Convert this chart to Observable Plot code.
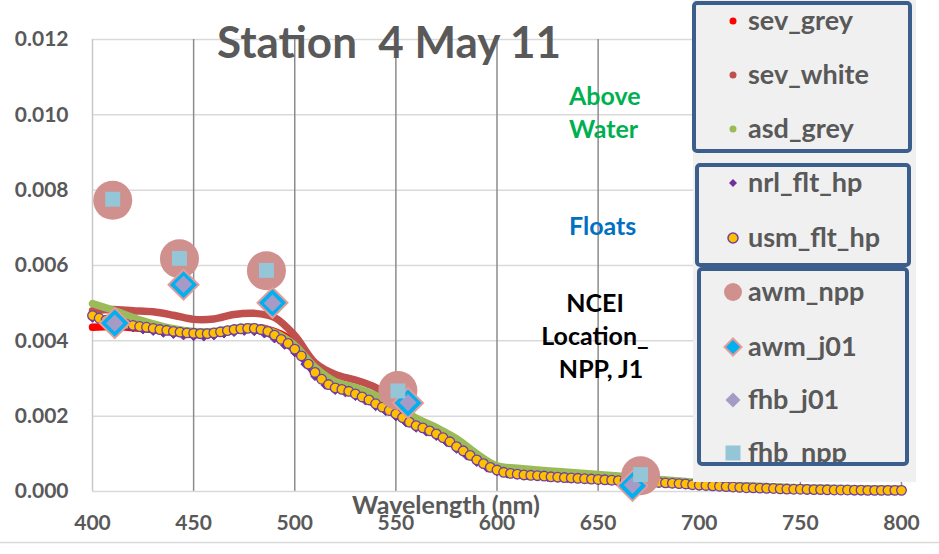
<!DOCTYPE html>
<html><head><meta charset="utf-8">
<script src="https://cdn.jsdelivr.net/npm/d3@7"></script>
<script src="https://cdn.jsdelivr.net/npm/@observablehq/plot@0.6"></script>
<style>html,body{margin:0;padding:0;background:#fff;overflow:hidden;} svg{display:block;}</style>
</head><body><div id="chart"></div>
<script>
// ---------- DATA ----------
const xTicks = [400, 450, 500, 550, 600, 650, 700, 750, 800];
const yTicks = [0, 0.002, 0.004, 0.006, 0.008, 0.010, 0.012];

// 10-nm sampled above-water spectra
const wl10 = [400,410,420,430,440,450,460,470,480,490,500,510,520,530,540,550,560,570,580,590,600,
              610,620,630,640,650,660,670,680,690,700,710,720,730,740,750,760,770,780,790,800];
const sevGrey = [0.00436,0.00438,0.00435,0.00430,0.00424,0.00420,0.00422,0.00430,0.00436,0.00425,0.00395,
                 0.00330,0.00285,0.00268,0.00245,0.00215,0.00185,0.00158,0.00125,0.00090,0.00062,
                 0.00052,0.00047,0.00043,0.00040,0.00037,0.00034,0.00031,0.00028,0.00024,0.00020,
                 0.00017,0.00014,0.00012,0.00010,0.00008,0.00007,0.00006,0.00005,0.00005,0.00005];
const sevWhite = [0.00480,0.00483,0.00480,0.00477,0.00468,0.00457,0.00458,0.00470,0.00473,0.00462,0.00414,
                  0.00342,0.00311,0.00296,0.00276,0.00236,0.00192,0.00165,0.00133,0.00095,0.00066,
                  0.00056,0.00052,0.00048,0.00044,0.00041,0.00037,0.00034,0.00030,0.00026,0.00021,
                  0.00018,0.00015,0.00012,0.00010,0.00008,0.00007,0.00006,0.00005,0.00005,0.00005];
const asdGrey = [0.00499,0.00482,0.00462,0.00445,0.00432,0.00425,0.00425,0.00433,0.00436,0.00422,0.00388,
                 0.00330,0.00292,0.00276,0.00255,0.00228,0.00195,0.00170,0.00140,0.00100,0.00068,
                 0.00062,0.00057,0.00053,0.00049,0.00045,0.00041,0.00037,0.00032,0.00028,0.00023,
                 0.00020,0.00017,0.00014,0.00012,0.00010,0.00009,0.00008,0.00007,0.000065,0.00006];

// NRL float (5 nm)
const wlNrl = [400,405,410,415,420,425,430,435,440,445,450,455,460,465,470,475,480,485,490,495,
               500,505,510,515,520,525,530,535,540,545,550,555,560,565,570,575,580,585,590,595,
               600,605,610,615,620,625,630,635,640,645,650,655,660,665,670,675,680,685,690,695,
               700,705,710,715,720,725,730,735,740,745,750,755,760,765,770,775,780,785,790,795,800];
const nrlFlt = [0.00460,0.00450,0.00444,0.00440,0.00434,0.00429,0.00425,0.00420,0.00417,0.00413,
                0.00411,0.00410,0.00413,0.00418,0.00422,0.00425,0.00424,0.00418,0.00405,0.00388,
                0.00368,0.00338,0.00305,0.00282,0.00268,0.00262,0.00252,0.00240,0.00225,0.00212,
                0.00198,0.00182,0.00168,0.00158,0.00146,0.00130,0.00112,0.00094,0.00077,0.00062,
                0.00052,0.00046,0.00043,0.00041,0.00039,0.00037,0.00036,0.00034,0.00033,0.00032,
                0.00030,0.00029,0.00027,0.00026,0.00025,0.00024,0.00022,0.00021,0.00019,0.00017,
                0.00015,0.00014,0.00012,0.00011,0.00010,0.00009,0.00008,0.00007,0.00006,0.000055,
                0.00005,0.000045,0.00004,0.00004,0.000035,0.00003,0.00003,0.000025,0.00002,0.00002,0.00002];

// USM float (~3.3 nm)
const wlUsm = [400,403.3,406.7,410,413.3,416.7,420,423.3,426.7,430,433.3,436.7,440,443.3,446.7,450,453.3,456.7,
  460,463.3,466.7,470,473.3,476.7,480,483.3,486.7,490,493.3,496.7,500,503.3,506.7,510,513.3,516.7,520,523.3,526.7,
  530,533.3,536.7,540,543.3,546.7,550,553.3,556.7,560,563.3,566.7,570,573.3,576.7,580,583.3,586.7,590,593.3,596.7,
  600,603.3,606.7,610,613.3,616.7,620,623.3,626.7,630,633.3,636.7,640,643.3,646.7,650,653.3,656.7,660,663.3,666.7,
  670,673.3,676.7,680,683.3,686.7,690,693.3,696.7,700,703.3,706.7,710,713.3,716.7,720,723.3,726.7,730,733.3,736.7,
  740,743.3,746.7,750,753.3,756.7,760,763.3,766.7,770,773.3,776.7,780,783.3,786.7,790,793.3,796.7,800];
const usmFlt = [0.00467,0.00460,0.00455,0.00451,0.00448,0.00444,0.00441,0.00438,0.00436,0.00433,
  0.00430,0.00428,0.00425,0.00423,0.00421,0.00420,0.00419,0.00419,0.00421,0.00424,
  0.00427,0.00430,0.00432,0.00433,0.00433,0.00430,0.00425,0.00415,0.00404,0.00393,
  0.00378,0.00360,0.00338,0.00316,0.00298,0.00284,0.00275,0.00271,0.00266,0.00259,
  0.00251,0.00243,0.00233,0.00224,0.00215,0.00206,0.00196,0.00184,0.00175,0.00169,
  0.00161,0.00153,0.00143,0.00132,0.00119,0.00108,0.00096,0.00084,0.00074,0.00064,
  0.00057,0.00051,0.00048,0.00046,0.00044,0.00043,0.00042,0.00041,0.00039,0.00038,
  0.00037,0.00036,0.00035,0.00034,0.00033,0.00032,0.00031,0.00030,0.00029,0.000285,
  0.00028,0.00027,0.00026,0.00025,0.00024,0.00023,0.00022,0.00021,0.00020,0.00018,
  0.00017,0.00016,0.00015,0.00014,0.00013,0.00012,0.00011,0.00010,0.000095,0.00009,
  0.000085,0.00008,0.00007,0.000065,0.00006,0.00006,0.000055,0.00005,0.00005,0.000045,
  0.00004,0.00004,0.00004,0.000035,0.000035,0.00003,0.00003,0.00003,0.00003,0.00003,0.00003];

// Satellite matchups
const wlNpp = [410, 443, 486, 551, 671];
const awmNpp = [0.00773, 0.00618, 0.00586, 0.00268, 0.00042];
const fhbNpp = [0.00776, 0.00619, 0.00587, 0.00267, 0.00045];
const wlJ01 = [411, 445, 489, 556, 667];
const awmJ01 = [0.00447, 0.00549, 0.00501, 0.00235, 0.00015];
const fhbJ01 = [0.00447, 0.00550, 0.00500, 0.00236, 0.00017];

const legendNames = ["sev_grey","sev_white","asd_grey","nrl_flt_hp","usm_flt_hp","awm_npp","awm_j01","fhb_j01","fhb_npp"];
const titleText = "Station  4 May 11";
const xLabel = "Wavelength (nm)";

// ---------- BUILD ----------
const pts = (xs, ys) => xs.map((x, i) => ({x, y: ys[i]}));
const FONT = "Lato, 'Open Sans', sans-serif";
const GREY = "#595959";
const C = {
  sevGrey: "#ff0000", sevWhite: "#c0504d", asd: "#9bbb59", nrl: "#7030a0",
  usm: "#ffc000", usmStroke: "#7040a0", awmNpp: "#d0908e", awmJ01: "#00b0f0",
  awmJ01Stroke: "#e39c9a", fhbJ01: "#a59bc6", fhbNpp: "#94c6d8"
};

const plot = Plot.plot({
  width: 939, height: 554,
  marginLeft: 92, marginRight: 38, marginTop: 39, marginBottom: 63,
  style: {fontFamily: FONT, fontWeight: "bold", fontSize: "21px", color: GREY, background: "white", overflow: "visible"},
  x: {domain: [400, 800], ticks: xTicks, tickSize: 0, tickPadding: 24, label: null},
  y: {domain: [0, 0.012], ticks: yTicks, tickSize: 0, tickPadding: 24, tickFormat: d3.format(".3f"), label: null},
  marks: [
    Plot.ruleY(yTicks.slice(1), {stroke: "#d9d9d9", strokeWidth: 1.5}),
    Plot.ruleX(xTicks.slice(1), {stroke: "#8c8c8c", strokeWidth: 1.5}),
    Plot.ruleX([400], {stroke: "#c8c8c8", strokeWidth: 1.5}),
    Plot.ruleY([0], {stroke: "#d9d9d9", strokeWidth: 1.5}),
    Plot.line(pts(wl10, sevGrey), {x: "x", y: "y", stroke: C.sevGrey, strokeWidth: 7.5, curve: "catmull-rom", strokeLinecap: "round"}),
    Plot.line(pts(wl10, sevWhite), {x: "x", y: "y", stroke: C.sevWhite, strokeWidth: 7.5, curve: "catmull-rom", strokeLinecap: "round"}),
    Plot.line(pts(wl10, asdGrey), {x: "x", y: "y", stroke: C.asd, strokeWidth: 7.5, curve: "catmull-rom", strokeLinecap: "round"}),
    Plot.line(pts(wlNrl, nrlFlt), {x: "x", y: "y", stroke: C.nrl, strokeWidth: 3, curve: "catmull-rom"}),
    Plot.dot(pts(wlNrl, nrlFlt), {x: "x", y: "y", symbol: "diamond2", r: 3.6, fill: C.nrl, stroke: C.nrl, strokeWidth: 1}),
    Plot.dot(pts(wlUsm, usmFlt), {x: "x", y: "y", symbol: "circle", r: 4.8, fill: C.usm, stroke: C.usmStroke, strokeWidth: 1.3}),
    Plot.dot(pts(wlNpp, awmNpp), {x: "x", y: "y", symbol: "circle", r: 19.5, fill: C.awmNpp}),
    Plot.dot(pts(wlJ01, awmJ01), {x: "x", y: "y", symbol: "diamond2", r: 13.5, fill: C.awmJ01, stroke: C.awmJ01Stroke, strokeWidth: 2}),
    Plot.dot(pts(wlJ01, fhbJ01), {x: "x", y: "y", symbol: "diamond2", r: 7.8, fill: C.fhbJ01, stroke: "none"}),
    Plot.dot(pts(wlNpp, fhbNpp), {x: "x", y: "y", symbol: "square", r: 8.4, fill: C.fhbNpp, stroke: "none"})
  ]
});

const svg = d3.select(plot);

// chart frame bottom line
svg.append("line").attr("x1", 0).attr("x2", 939).attr("y1", 542.5).attr("y2", 542.5)
  .attr("stroke", "#d9d9d9").attr("stroke-width", 1.5);

// title
svg.append("text").attr("x", 217).attr("y", 58).attr("text-anchor", "start").text(titleText)
  .attr("font-family", FONT).attr("font-weight", "bold").attr("font-size", 44).attr("fill", GREY)
  .style("white-space", "pre");

// x axis label
svg.append("text").attr("x", 446).attr("y", 514).attr("text-anchor", "middle").text(xLabel)
  .attr("font-family", FONT).attr("font-weight", "bold").attr("font-size", 25).attr("fill", GREY);

// annotations
const ann = (lines, x, y0, color, anchor) => {
  lines.forEach((t, i) => svg.append("text").attr("x", x).attr("y", y0 + i * 33).text(t)
    .attr("text-anchor", anchor).attr("font-family", FONT).attr("font-weight", "bold")
    .attr("font-size", 25).attr("fill", color).style("white-space", "pre"));
};
ann(["Above", "Water"], 569, 105, "#00b050", "start");
ann(["Floats"], 569, 235, "#0070c0", "start");
ann(["NCEI", "Location_", "  NPP, J1"], 595, 312, "#000000", "middle");

// legend
const lg = svg.append("g");
lg.append("rect").attr("x", 693).attr("y", 0).attr("width", 223).attr("height", 482).attr("fill", "#f0f0f0");
const defs = svg.append("defs");
defs.append("clipPath").attr("id", "box3clip").append("rect").attr("x", 699).attr("y", 270).attr("width", 208).attr("height", 192);
const boxes = [[694, 3, 216, 148], [697, 165, 212, 100], [699, 269, 208, 195]];
const rowY = [21, 75, 129, 183, 238, 292, 347, 400, 453];
const diamond = h => `M0,${-h}L${h},0L0,${h}L${-h},0Z`;
const markers = [
  g => g.append("circle").attr("r", 3.5).attr("fill", C.sevGrey),
  g => g.append("circle").attr("r", 3.5).attr("fill", C.sevWhite),
  g => g.append("circle").attr("r", 3.5).attr("fill", C.asd),
  g => g.append("path").attr("d", diamond(4)).attr("fill", C.nrl),
  g => g.append("circle").attr("r", 5).attr("fill", C.usm).attr("stroke", C.usmStroke).attr("stroke-width", 1.5),
  g => g.append("circle").attr("r", 9).attr("fill", C.awmNpp),
  g => g.append("path").attr("d", diamond(8.5)).attr("fill", C.awmJ01).attr("stroke", C.awmJ01Stroke).attr("stroke-width", 2),
  g => g.append("path").attr("d", diamond(7.5)).attr("fill", C.fhbJ01),
  g => g.append("rect").attr("x", -7.5).attr("y", -7.5).attr("width", 15).attr("height", 15).attr("fill", C.fhbNpp)
];
const items = lg.append("g");
const items3 = lg.append("g").attr("clip-path", "url(#box3clip)");
legendNames.forEach((name, i) => {
  const parent = i >= 5 ? items3 : items;
  const g = parent.append("g").attr("transform", `translate(733,${rowY[i]})`);
  markers[i](g);
  g.append("text").attr("x", 15).attr("y", 8.5).attr("text-anchor", "start").text(name)
    .attr("font-family", FONT).attr("font-weight", "bold").attr("font-size", 27).attr("fill", GREY);
});
boxes.forEach(([x, y, w, h]) => lg.append("rect").attr("x", x).attr("y", y).attr("width", w).attr("height", h)
  .attr("rx", 3).attr("fill", "none").attr("stroke", "#3b5e8c").attr("stroke-width", 4));

document.getElementById("chart").appendChild(plot);
</script>
</body></html>
